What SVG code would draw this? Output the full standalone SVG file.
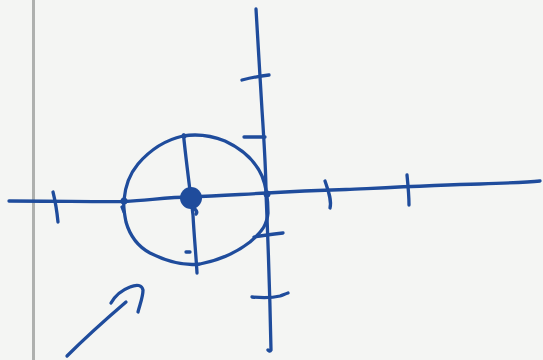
<svg xmlns="http://www.w3.org/2000/svg" width="543" height="360" viewBox="0 0 543 360">
<style>
.ink{fill:none;stroke:#1f4c9c;stroke-width:3.3;stroke-linecap:round;stroke-linejoin:round}
.dot{fill:#1f4c9c}
</style>
<rect width="543" height="360" fill="#f4f5f3"/>
<line x1="33.5" y1="0" x2="33.5" y2="360" stroke="#aeb0ae" stroke-width="3"/>
<g id="x-axis">
<path class="ink" d="M9,201 C60,201 100,202 125,201.5 C150,200 170,197 190,197 C220,196 245,194 267,193 C300,191 330,190 346,189.5 C400,187 440,185 480,184 C510,183 530,182 540,181"/>
<path class="ink" d="M53,192 C55,200 57,212 58,222"/>
<path class="ink" d="M325,181 C328,190 332,200 330,208"/>
<path class="ink" d="M407,175 C408,185 409,196 409,205"/>
</g>
<g id="y-axis">
<path class="ink" d="M256,9 C258,40 260,80 262,110 C264,140 266,170 266,193 C268,240 270,300 271,350 C270,352 269,351 268,350"/>
<path class="ink" d="M242,80 C250,78 260,76 269,75"/>
<path class="ink" d="M244,137 L265,137"/>
<path class="ink" d="M254,237 C264,235 273,234 283,233"/>
<path class="ink" d="M252,297 C262,298 272,298 280,296 C283,295 285,294 288,293"/>
</g>
<g id="circle">
<path class="ink" d="M124,200 C125,188 128,176 138,164 C150,150 165,140 183,136 C195,134 210,135 225,141 C240,148 255,160 262,176 C267,188 268,200 268,213 C267,224 263,231 250,242 C236,253 220,260 200,264 C185,266 168,262 150,253 C137,246 130,236 126,222 C124,212 123,206 124,200 Z"/>
<path class="ink" d="M183.5,135 C186,160 190,190 193,215 C194,235 196,255 197,273"/>
<circle class="dot" cx="191" cy="198" r="11"/>
<circle class="dot" cx="124" cy="201" r="3.5"/>
<circle class="dot" cx="267" cy="194" r="3.5"/>
<circle class="dot" cx="184" cy="136" r="2.5"/>
<path class="ink" d="M193,207 C196,210 198,212 196,214"/>
<path class="ink" d="M186,252 L190,252"/>
<path class="ink" d="M122,207 L124,212"/>
</g>
<g id="arrow">
<path class="ink" d="M67,356 C85,338 105,320 126,302"/>
<path class="ink" d="M111,303 C115,296 122,290 130,287 C137,284 142,285 143,290 C143,297 140,304 138,312"/>
</g>
</svg>
